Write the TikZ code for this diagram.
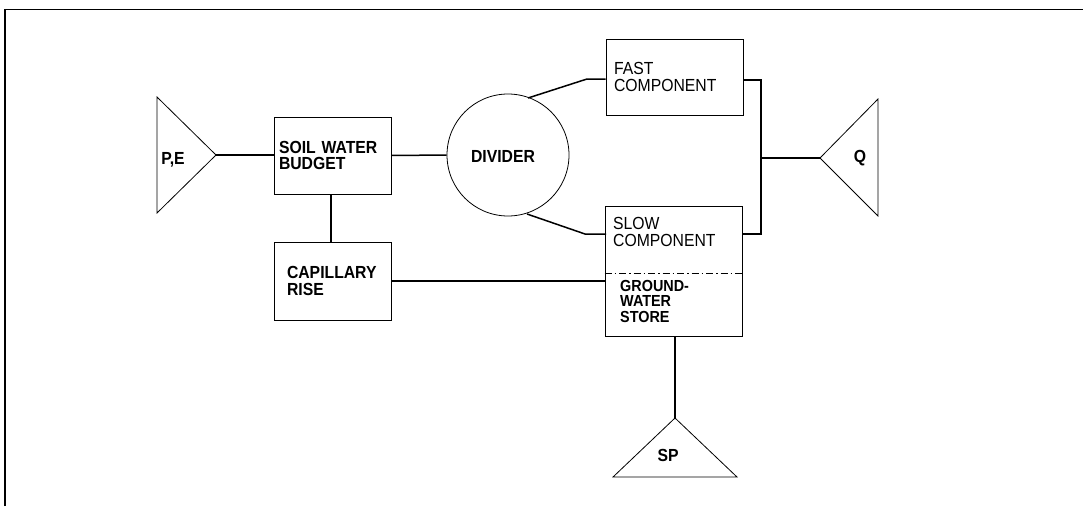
\documentclass[tikz,border=0pt]{standalone}
\usepackage{fontspec}
\setmainfont{Liberation Sans}
\newfontfamily\lblfont[FakeStretch=0.9]{Liberation Sans}
\newcommand{\lblsize}{\lblfont\fontsize{17.5}{16.5}\selectfont}
\begin{document}
\begin{tikzpicture}[x=1pt,y=-1pt,
  box/.style={draw,line width=0.8pt,rectangle,inner ysep=0pt,align=left,font=\lblsize},
  conn/.style={line width=1.5pt},
  tri/.style={draw,line width=0.8pt,line join=miter},
  lab/.style={inner sep=0pt,font=\lblsize},
  txt/.style={inner sep=0pt,align=left,anchor=north west,font=\lblsize}]
\useasboundingbox (0,0) rectangle (1083,506);
% frame
\draw[line width=1.5pt] (5,506) -- (5,9.5) -- (1083,9.5);
% boxes
\node[box,minimum width=117pt,minimum height=77pt,inner xsep=5pt,text width=107pt] (swb) at (332.5,155.5) {\bfseries SOIL WATER\\\bfseries BUDGET};
\node[box,minimum width=117pt,minimum height=78pt,inner xsep=13pt,text width=91pt] (cap) at (332.5,281) {\bfseries CAPILLARY\\\bfseries RISE};
\node[box,minimum width=137pt,minimum height=76pt,inner xsep=8pt,text width=121pt] (fast) at (674.5,77) {FAST\\COMPONENT};
\node[box,minimum width=137pt,minimum height=130pt] (slow) at (673.5,271) {};
\node[txt,font=\lblfont\fontsize{17.5}{17}\selectfont] (slowtxt) at (613,217) {SLOW\\COMPONENT};
\node[txt,font=\lblfont\fontsize{16}{15.5}\selectfont] (gwtxt) at (620,280) {\bfseries GROUND-\\\bfseries WATER\\\bfseries STORE};
\draw[line width=0.8pt,dash pattern=on 7pt off 3pt on 1.5pt off 3pt] (slow.west |- 0,273) -- (slow.east |- 0,273);
% divider
\node[draw,line width=0.8pt,circle,minimum size=122pt,inner sep=0pt] (div) at (508,155) {};
\node[lab] (divtxt) at (503,156) {\bfseries DIVIDER};
% triangles
\coordinate (pe) at (216,155);
\draw[tri] (157,97) -- (157,213) -- (pe) -- cycle;
\node[lab] (petxt) at (173,160) {\bfseries P,E};
\coordinate (q) at (820,158);
\draw[tri] (878,99) -- (878,216) -- (q) -- cycle;
\node[lab] (qtxt) at (860,158) {\bfseries Q};
\coordinate (sp) at (675,418);
\draw[tri] (613,477) -- (737,477) -- (sp) -- cycle;
\node[lab] (sptxt) at (668,455) {\bfseries SP};
% connectors
\coordinate (divtop) at (528,98);
\coordinate (divbot) at (527,214);
\coordinate (slowin) at (606,234);
\coordinate (slowout) at (742,234);
\coordinate (junc) at (761,158);
\draw[conn] (pe) -- (swb.west |- pe);
\draw[conn] (swb.east) -- (div.west);
\draw[conn] (swb.south -| 331,0) -- (cap.north -| 331,0);
\draw[conn] (cap.east) -- (cap.east -| slow.west);
\draw[conn] (divtop) -- (587,79) -- (fast.west |- 0,79);
\draw[conn] (divbot) -- (585,234) -- (slowin);
\draw[conn] (fast.east |- 0,80) -- (761,80) -- (761,234) -- (slowout);
\draw[conn] (junc) -- (q);
\draw[conn] (slow.south -| sp) -- (sp);
\end{tikzpicture}
\end{document}
